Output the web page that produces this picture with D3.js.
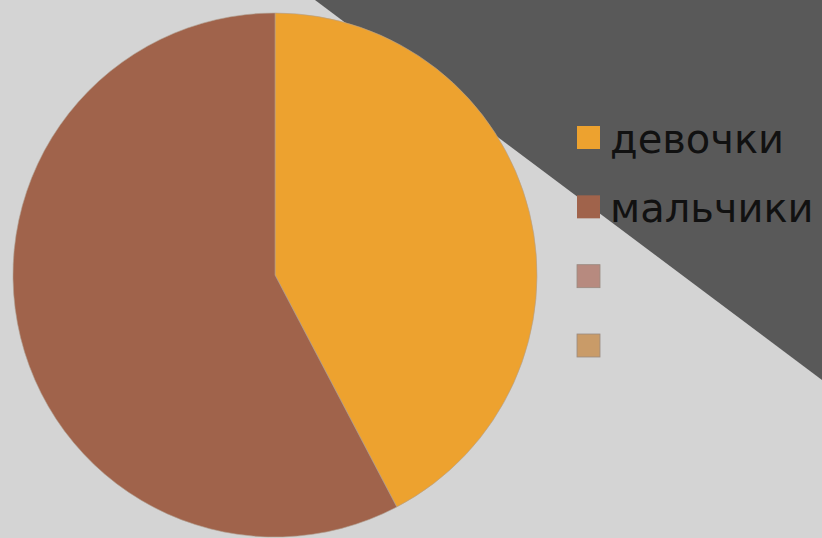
<!DOCTYPE html>
<html>
<head>
<meta charset="utf-8">
<script src="https://cdn.jsdelivr.net/npm/d3@7"></script>
<style>
  body { margin: 0; background: #d4d4d4; }
  svg { display: block; }
</style>
</head>
<body>
<div id="graph"></div>
<script>
// chart data
const categories = ['девочки', 'мальчики', '', ''];
const values = [11, 15, 0, 0];
const colors = ['#eda22f', '#a0634b', '#b78a7f', '#c99b68'];

const svgWidth = 822;
const svgHeight = 538;

const svg = d3.select('#graph')
  .append('svg')
  .attr('width', svgWidth)
  .attr('height', svgHeight);

// background and dark corner triangle
svg.append('rect')
  .attr('width', svgWidth)
  .attr('height', svgHeight)
  .attr('fill', '#d4d4d4');

svg.append('path')
  .attr('d', 'M315,0 L822,0 L822,380 Z')
  .attr('fill', '#595959');

// pie
const cx = 275, cy = 275, radius = 262;

const pie = d3.pie().sort(null).value(d => d.value);
const arc = d3.arc().innerRadius(0).outerRadius(radius);

const data = categories.map((c, i) => ({ name: c, value: values[i], color: colors[i] }));

const pieG = svg.append('g')
  .attr('transform', `translate(${cx}, ${cy})`);

pieG.selectAll('path')
  .data(pie(data).filter(d => d.data.value > 0))
  .enter()
  .append('path')
  .attr('d', arc)
  .attr('fill', d => d.data.color)
  .attr('stroke', '#b0a090')
  .attr('stroke-width', 0.6);

// legend
const legendY = d3.scalePoint()
  .domain(d3.range(categories.length))
  .range([137.5, 345.5]);

const legend = svg.append('g').attr('class', 'legend');

const items = legend.selectAll('g')
  .data(data)
  .enter()
  .append('g')
  .attr('transform', (d, i) => `translate(577, ${legendY(i)})`);

items.append('rect')
  .attr('x', 0)
  .attr('y', -11.5)
  .attr('width', 23)
  .attr('height', 23)
  .attr('fill', d => d.color)
  .attr('stroke', (d, i) => i >= 2 ? '#9a8a80' : 'none')
  .attr('stroke-width', 0.8);

items.append('text')
  .attr('x', 33)
  .attr('y', 15.5)
  .attr('font-family', 'DejaVu Sans, sans-serif')
  .attr('font-size', 40)
  .attr('fill', '#111')
  .text(d => d.name);
</script>
</body>
</html>
